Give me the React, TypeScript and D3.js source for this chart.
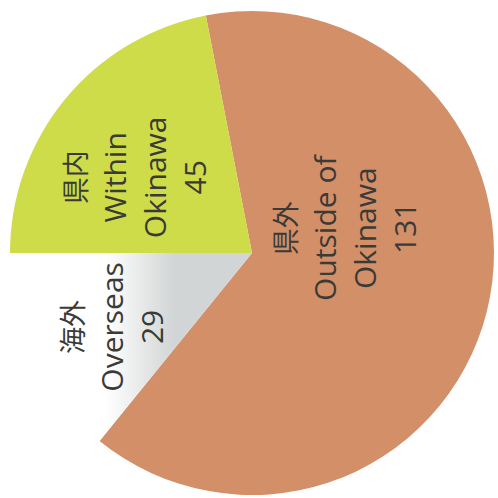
import React, { useEffect, useRef } from "react";
import * as d3 from "d3";

// slice data, in drawing order (clockwise from the top)
const japaneseLabels = ["県外", "海外", "県内"];
const englishLabels = [["Outside of", "Okinawa"], ["Overseas"], ["Within", "Okinawa"]];
const values = [131, 29, 45];
const sliceColors = ["#d38f68", "url(#overseasFade)", "#cddc48"];

const App: React.FC = () => {
  const svgRef = useRef<SVGSVGElement>(null);

  useEffect(() => {
    if (!svgRef.current) return;
    const width = 498;
    const height = 498;
    const cx = 252;
    const cy = 253;
    const radius = 242;
    const startAngle = (-11 * Math.PI) / 180;

    const svg = d3.select(svgRef.current).attr("width", width).attr("height", height);
    svg.selectAll("*").remove();

    svg.append("rect").attr("width", width).attr("height", height).attr("fill", "#ffffff");

    // overseas slice fades from grey near the centre to white outside
    // (coordinates are in the pie group's frame, centred on cx,cy)
    const grad = svg
      .append("defs")
      .append("linearGradient")
      .attr("id", "overseasFade")
      .attr("gradientUnits", "userSpaceOnUse")
      .attr("x1", 105 - cx)
      .attr("y1", 0)
      .attr("x2", 175 - cx)
      .attr("y2", 0);
    grad.append("stop").attr("offset", "0%").attr("stop-color", "#ffffff");
    grad.append("stop").attr("offset", "100%").attr("stop-color", "#d2d5d5");

    const idx = d3.range(values.length);
    const pie = d3
      .pie<number>()
      .sort(null)
      .value((i) => values[i])
      .startAngle(startAngle)
      .endAngle(startAngle + Math.PI * 2);
    const arcs = pie(idx);

    const arc = d3.arc<d3.PieArcDatum<number>>().innerRadius(0).outerRadius(radius);

    const g = svg.append("g").attr("transform", `translate(${cx},${cy})`);
    g.selectAll("path")
      .data(arcs)
      .join("path")
      .attr("d", arc)
      .attr("fill", (d) => sliceColors[d.data]);

    // label placement: radius and angle nudge from the slice middle
    const labelPlace = [
      { r: 96, da: -29 },
      { r: 158, da: -2.4 },
      { r: 139, da: -6.5 },
    ];
    const lineGap = 40;

    arcs.forEach((a) => {
      const i = a.data;
      const mid = (a.startAngle + a.endAngle) / 2 + (labelPlace[i].da * Math.PI) / 180;
      const x = labelPlace[i].r * Math.sin(mid);
      const y = -labelPlace[i].r * Math.cos(mid);
      const lines = [japaneseLabels[i], ...englishLabels[i], String(values[i])];
      const n = lines.length;
      const lg = g.append("g").attr("transform", `translate(${x},${y}) rotate(-90)`);
      lines.forEach((t, j) => {
        lg.append("text")
          .attr("x", 0)
          .attr("y", (j - (n - 1) / 2) * lineGap + 11)
          .attr("text-anchor", "middle")
          .attr("font-family", j === 0 ? "'Noto Sans CJK JP', sans-serif" : "'Open Sans', sans-serif")
          .attr("font-size", j === 0 ? 27 : 30)
          .attr("fill", "#3a3a36")
          .text(t);
      });
    });
  }, []);

  return (
    <div style={{ position: "absolute", left: 0, top: 0 }}>
      <svg ref={svgRef}></svg>
    </div>
  );
};

export default App;
